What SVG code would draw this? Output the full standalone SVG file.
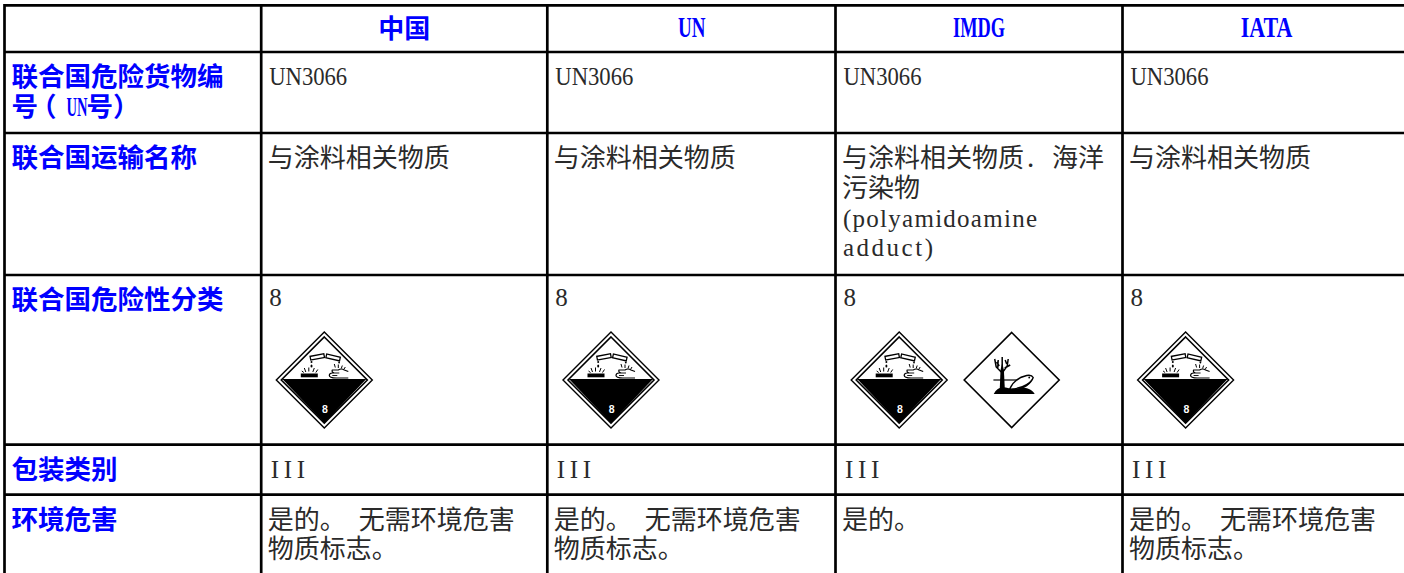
<svg xmlns="http://www.w3.org/2000/svg" xmlns:xlink="http://www.w3.org/1999/xlink" width="1404" height="573" viewBox="0 0 1404 573">
<style>
.g line{stroke:#000;stroke-width:2.7}
.lbl{font-family:"Noto Sans CJK SC",sans-serif;font-weight:700;font-size:26.5px;fill:#0000ff}
.hz{font-family:"Noto Sans CJK SC",sans-serif;font-weight:700;font-size:26px;fill:#0000ff}
.hl{font-family:"Liberation Serif",serif;font-weight:700;font-size:28.5px;fill:#0000ff}
.zh{font-family:"Noto Sans CJK SC",sans-serif;font-size:26px;fill:#2a2a2a}
.lt{font-family:"Liberation Serif",serif;font-size:25px;fill:#2a2a2a}
.ul{font-family:"Liberation Serif","Noto Sans CJK SC",serif;font-weight:700;font-size:27px;fill:#0000ff}
</style>
<defs>
<g id="corr">
<path d="M0,-48L48,0L0,48L-48,0Z" fill="#fff" stroke="#000" stroke-width="1.4"/>
<path d="M0,-43L43,0L0,43L-43,0Z" fill="none" stroke="#000" stroke-width="1.6"/>
<path d="M-42,-1L42,-1L0,43Z" fill="#000"/>
<rect x="-14" y="-25" width="14" height="3.8" fill="#fff" stroke="#000" stroke-width="1.3" transform="rotate(-11 -7 -23)"/>
<rect x="1.8" y="-24.5" width="14" height="3.8" fill="#fff" stroke="#000" stroke-width="1.3" transform="rotate(13 8.7 -22.5)"/>
<circle cx="-12.8" cy="-18" r="1"/>
<ellipse cx="-12.8" cy="-14" rx="1" ry="1.5"/>
<circle cx="14.8" cy="-17.5" r="0.9"/>
<rect x="-23.5" y="-6.5" width="17" height="3.8"/>
<path d="M-20,-12L-18.5,-8M-15.5,-12.5L-15.5,-8.5M-10,-12L-11.5,-8M-6.5,-10.5L-8.5,-7.5M-22.5,-9L-20.5,-7.5" stroke="#000" stroke-width="1" fill="none"/>
<path d="M24,-2L12,-2Q5,-2 5,-4.5Q5,-7 8,-7L10,-7Q7,-8 8,-10L14,-10Q17,-12 20,-10L24,-8.5" fill="#fff" stroke="#000" stroke-width="1.2"/>
<path d="M8,-4.5L13,-4.5M10,-7L15,-7" stroke="#000" stroke-width="0.9" fill="none"/>
<path d="M10,-16L11,-12.5M14,-15.5L14,-12M18,-14.5L17,-11.5M21,-13L19.5,-10.5" stroke="#000" stroke-width="1" fill="none"/>
<text x="0.7" y="32.7" text-anchor="middle" font-family="Liberation Sans,sans-serif" font-weight="700" font-size="10.5" fill="#fff">8</text>
</g>
<g id="env">
<path d="M0,-47.5L47.5,0L0,47.5L-47.5,0Z" fill="#fff" stroke="#000" stroke-width="1.6"/>
<path d="M-12,11L-11.2,-10L-9.5,-17L-7.8,-10L-6.8,11Z" fill="#000"/>
<path d="M-10.5,-8L-15.5,-13L-17,-21M-14,-11.5L-13.5,-20M-12.5,-14L-15,-18M-9.5,-12L-9.5,-23M-8.5,-8.5L-4.5,-14L-3.5,-21M-7,-12L-1.5,-15M-5,-16L-6.5,-20" stroke="#000" stroke-width="1.5" fill="none"/>
<path d="M-18.3,0L11.6,0" stroke="#000" stroke-width="1.2"/>
<path d="M-18,14Q-14,6 -6,7.5Q2,10 9,6.5L16,8.5Q21,10 23,14Z" fill="#000"/>
<path d="M-2,9Q3,-2 15,-4.5Q20,-5.5 21.5,-2.5Q20,2 14.5,6Q7,10.5 -2,9Z" fill="#fff" stroke="#000" stroke-width="1.4"/>
<path d="M-1,8.5Q8,8 14.5,4Q18,2 20.5,-1Q19.5,3 14.5,6Q7,10.5 -1,8.5Z" fill="#000"/>
<path d="M-2,9L-5.5,13L1.5,12.5Z" fill="#000"/>
<circle cx="17.5" cy="-2.5" r="0.9"/>
</g>
</defs>

<g id="grid" class="g">
<line x1="4.5" y1="5.3" x2="1404" y2="5.3"/>
<line x1="4.5" y1="52" x2="1404" y2="52"/>
<line x1="4.5" y1="133" x2="1404" y2="133"/>
<line x1="4.5" y1="275" x2="1404" y2="275"/>
<line x1="4.5" y1="444.7" x2="1404" y2="444.7"/>
<line x1="4.5" y1="494.7" x2="1404" y2="494.7"/>
<line x1="4.5" y1="4" x2="4.5" y2="573"/>
<line x1="261.2" y1="4" x2="261.2" y2="573"/>
<line x1="547.3" y1="4" x2="547.3" y2="573"/>
<line x1="835.5" y1="4" x2="835.5" y2="573"/>
<line x1="1122.5" y1="4" x2="1122.5" y2="573"/>
</g>

<g id="header">
<text class="hz" x="404.3" y="38" text-anchor="middle">中国</text>
<text class="hl" x="678" y="37" textLength="27.5" lengthAdjust="spacingAndGlyphs">UN</text>
<text class="hl" x="953" y="37" textLength="52" lengthAdjust="spacingAndGlyphs">IMDG</text>
<text class="hl" x="1240.7" y="37" textLength="51.6" lengthAdjust="spacingAndGlyphs">IATA</text>
</g>

<g id="labels">
<text class="lbl" x="11.5" y="86.4">联合国危险货物编</text>
<text class="lbl" y="115.8"><tspan x="11.5">号</tspan><tspan x="30">（</tspan><tspan x="86.5">号</tspan><tspan x="113">）</tspan></text>
<text class="ul" x="66.5" y="115.8" textLength="21" lengthAdjust="spacingAndGlyphs">UN</text>
<text class="lbl" x="11.5" y="167.4">联合国运输名称</text>
<text class="lbl" x="11.5" y="308.5">联合国危险性分类</text>
<text class="lbl" x="11.5" y="478.7">包装类别</text>
<text class="lbl" x="11.5" y="528.7">环境危害</text>
</g>

<g id="col-cn">
<text class="lt" x="269.2" y="85" textLength="78" lengthAdjust="spacingAndGlyphs">UN3066</text>
<text class="zh" x="267.7" y="167.4">与涂料相关物质</text>
<text class="lt" x="269.2" y="306" font-size="26">8</text>
<use xlink:href="#corr" href="#corr" x="324.3" y="380"/>
<text class="lt" y="478"><tspan x="270.7">I</tspan><tspan x="283.7">I</tspan><tspan x="296.7">I</tspan></text>
<text class="zh" y="528.5"><tspan x="267.7">是的。</tspan><tspan x="358.7">无需环境危害</tspan></text>
<text class="zh" x="267.7" y="558">物质标志。</text>
</g>

<g id="col-un">
<text class="lt" x="555.3" y="85" textLength="78" lengthAdjust="spacingAndGlyphs">UN3066</text>
<text class="zh" x="553.8" y="167.4">与涂料相关物质</text>
<text class="lt" x="555.3" y="306" font-size="26">8</text>
<use xlink:href="#corr" href="#corr" x="611" y="380"/>
<text class="lt" y="478"><tspan x="556.8">I</tspan><tspan x="569.8">I</tspan><tspan x="582.8">I</tspan></text>
<text class="zh" y="528.5"><tspan x="553.8">是的。</tspan><tspan x="644.8">无需环境危害</tspan></text>
<text class="zh" x="553.8" y="558">物质标志。</text>
</g>

<g id="col-imdg">
<text class="lt" x="843.5" y="85" textLength="78" lengthAdjust="spacingAndGlyphs">UN3066</text>
<text class="zh" y="167.4"><tspan x="842">与涂料相关物质</tspan><tspan x="1027">.</tspan><tspan x="1052">海洋</tspan></text>
<text class="zh" x="842" y="197">污染物</text>
<text class="lt" x="843" y="227" textLength="194" lengthAdjust="spacing">(polyamidoamine</text>
<text class="lt" x="843" y="256" textLength="90" lengthAdjust="spacing">adduct)</text>
<text class="lt" x="843.5" y="306" font-size="26">8</text>
<use xlink:href="#corr" href="#corr" x="899.2" y="380"/>
<use xlink:href="#env" href="#env" x="1011.7" y="380"/>
<text class="lt" y="478"><tspan x="845">I</tspan><tspan x="858">I</tspan><tspan x="871">I</tspan></text>
<text class="zh" x="842" y="528.5">是的。</text>
</g>

<g id="col-iata">
<text class="lt" x="1130.5" y="85" textLength="78" lengthAdjust="spacingAndGlyphs">UN3066</text>
<text class="zh" x="1129" y="167.4">与涂料相关物质</text>
<text class="lt" x="1130.5" y="306" font-size="26">8</text>
<use xlink:href="#corr" href="#corr" x="1185.6" y="380"/>
<text class="lt" y="478"><tspan x="1132">I</tspan><tspan x="1145">I</tspan><tspan x="1158">I</tspan></text>
<text class="zh" y="528.5"><tspan x="1129">是的。</tspan><tspan x="1220">无需环境危害</tspan></text>
<text class="zh" x="1129" y="558">物质标志。</text>
</g>
</svg>
